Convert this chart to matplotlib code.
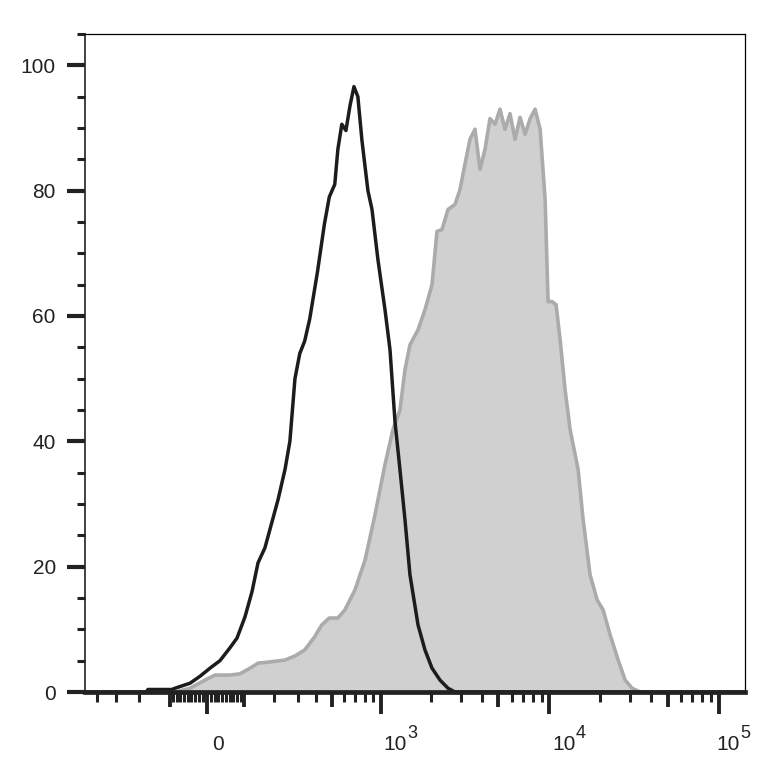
import numpy as np
import matplotlib
matplotlib.use("Agg")
import matplotlib.pyplot as plt
from matplotlib import transforms

plt.rcParams['font.family'] = ['Liberation Sans', 'DejaVu Sans']

# ---- data (fluorescence value, % of max) ----
unstained_x = [-480, -175, -169, -94, -85, -44, -18, 8, 34, 60, 80, 103, 124, 143, 166, 184,
               214, 242, 263, 286, 309, 334, 361, 406, 450, 484, 524, 548, 580, 615, 652,
               689, 728, 771, 838, 887, 963, 1062, 1138, 1220, 1305, 1398, 1497, 1672,
               1839, 2024, 2257, 2518, 2770, 143000]
unstained_y = [0, 0, 0.4, 0.4, 0.6, 1.4, 2.5, 3.8, 5.0, 7.0, 8.6, 12.0, 16.0, 20.6, 23.0, 26.0,
               30.7, 35.5, 40.0, 50.0, 54.0, 56.0, 59.5, 67.0, 74.6, 79.0, 81.0, 86.6, 90.6,
               89.6, 93.6, 96.6, 95.0, 88.0, 80.0, 77.0, 69.0, 61.0, 54.6, 43.0, 35.5, 27.5,
               18.7, 10.7, 6.7, 3.8, 1.9, 0.6, 0, 0]

stained_x = [-85, -44, -5, 21, 60, 88, 118, 143, 184, 242, 286, 334, 389, 433, 484, 548, 606,
             699, 804, 925, 1062, 1186, 1305, 1398, 1497, 1672, 1839, 2024, 2166, 2320, 2518,
             2770, 2966, 3175, 3397, 3636, 3893, 4167, 4461, 4776, 5111, 5472, 5857, 6270,
             6712, 7192, 7700, 8239, 8820, 9440, 9830, 10380, 10960, 11580, 12390, 13260,
             14790, 15830, 17400, 19150, 20780, 22860, 25490, 28030, 30820, 34370]
stained_y = [0, 0.6, 1.9, 2.7, 2.7, 2.9, 3.8, 4.6, 4.8, 5.1, 5.75, 6.7, 8.8, 10.7, 11.8, 11.8,
             13.1, 16.3, 21.0, 28.3, 36.3, 41.9, 45.0, 51.4, 55.4, 57.8, 61.0, 65.0, 73.5,
             73.8, 77.0, 77.8, 80.2, 84.3, 88.2, 89.8, 83.4, 86.6, 91.5, 90.6, 93.0, 89.8,
             92.3, 88.2, 91.7, 89.0, 91.5, 93.0, 89.8, 78.6, 62.3, 62.3, 61.8, 56.2, 48.2,
             41.9, 35.5, 27.5, 18.7, 14.7, 13.1, 9.1, 5.1, 1.9, 0.6, 0]

x_major_ticks = [0, 1000, 10000, 100000]
x_label_base = ['0', '10', '10', '10']
x_label_exp = ['', '3', '4', '5']
x_medium_ticks = [-100, 100, 500, 5000, 50000]
x_minor_ticks = ([-400, -300, -200] + [-v for v in range(10, 100, 10)] + list(range(10, 100, 10))
                 + [200, 300, 400, 600, 700, 800, 900]
                 + [2000, 3000, 4000, 6000, 7000, 8000, 9000]
                 + [20000, 30000, 40000, 60000, 70000, 80000, 90000])
y_major_ticks = [0, 20, 40, 60, 80, 100]
y_minor_ticks = [5, 10, 15, 25, 30, 35, 45, 50, 55, 65, 70, 75, 85, 90, 95, 105]

C = 190.0
def fwd(x):
    return np.arcsinh(np.asarray(x, dtype=float) / C)
def inv(y):
    return C * np.sinh(np.asarray(y, dtype=float))

fig = plt.figure(figsize=(7.79, 7.65), dpi=100)
ax = fig.add_axes([85/779, 73/765, 660/779, 658/765])
ax.set_xscale('function', functions=(fwd, inv))

ax.fill_between(stained_x, stained_y, 0, facecolor='#d0d0d0', edgecolor='none', zorder=1)
ax.plot(stained_x, stained_y, color='#ababab', lw=2.6, zorder=2, solid_joinstyle='round')
ax.plot(unstained_x, unstained_y, color='#1c1c1c', lw=2.5, zorder=3, solid_joinstyle='round')

ax.set_xlim(-480, 143000)
ax.set_ylim(0, 105)

# x ticks
maj = x_major_ticks + x_medium_ticks
ax.set_xticks(maj)
ax.set_xticklabels([''] * len(maj))
ax.set_xticks(x_minor_ticks, minor=True)
ax.tick_params(axis='x', which='major', direction='out', width=2.8, length=16, color='#222222')
ax.tick_params(axis='x', which='minor', direction='out', width=2.2, length=7, color='#222222')
for t, v in zip(ax.xaxis.get_major_ticks(), maj):
    if v in x_medium_ticks:
        t.tick1line.set_markersize(11)

trans = ax.get_xaxis_transform()
for v, base, ex in zip(x_major_ticks, x_label_base, x_label_exp):
    dx = 5 if v == 0 else (-2 if v == 100000 else 3)
    off = transforms.ScaledTranslation(dx / 100, 0, fig.dpi_scale_trans)
    ax.text(v, -0.088, base, transform=trans + off, ha='left', va='baseline',
            fontsize=15, color='#222222')
    if ex:
        off2 = transforms.ScaledTranslation((dx + 23.5) / 100, 12 / 100, fig.dpi_scale_trans)
        ax.text(v, -0.088, ex, transform=trans + off2, ha='left', va='baseline',
                fontsize=13, color='#222222')

# y ticks
ax.set_yticks(y_major_ticks)
ax.set_yticklabels([str(v) for v in y_major_ticks])
ax.set_yticks(y_minor_ticks, minor=True)
ax.tick_params(axis='y', which='major', direction='out', width=3.0, length=13, pad=8,
               labelsize=15, color='#222222', labelcolor='#222222')
ax.tick_params(axis='y', which='minor', direction='out', width=2.2, length=6, color='#222222')

ax.spines['bottom'].set_linewidth(3.4)
ax.spines['bottom'].set_color('#222222')
ax.spines['left'].set_linewidth(1.2)
ax.spines['left'].set_color('#222222')
ax.spines['top'].set_linewidth(0.9)
ax.spines['right'].set_linewidth(0.9)
for s in ax.spines.values():
    s.set_zorder(5)

fig.savefig('out.png', dpi=100)
